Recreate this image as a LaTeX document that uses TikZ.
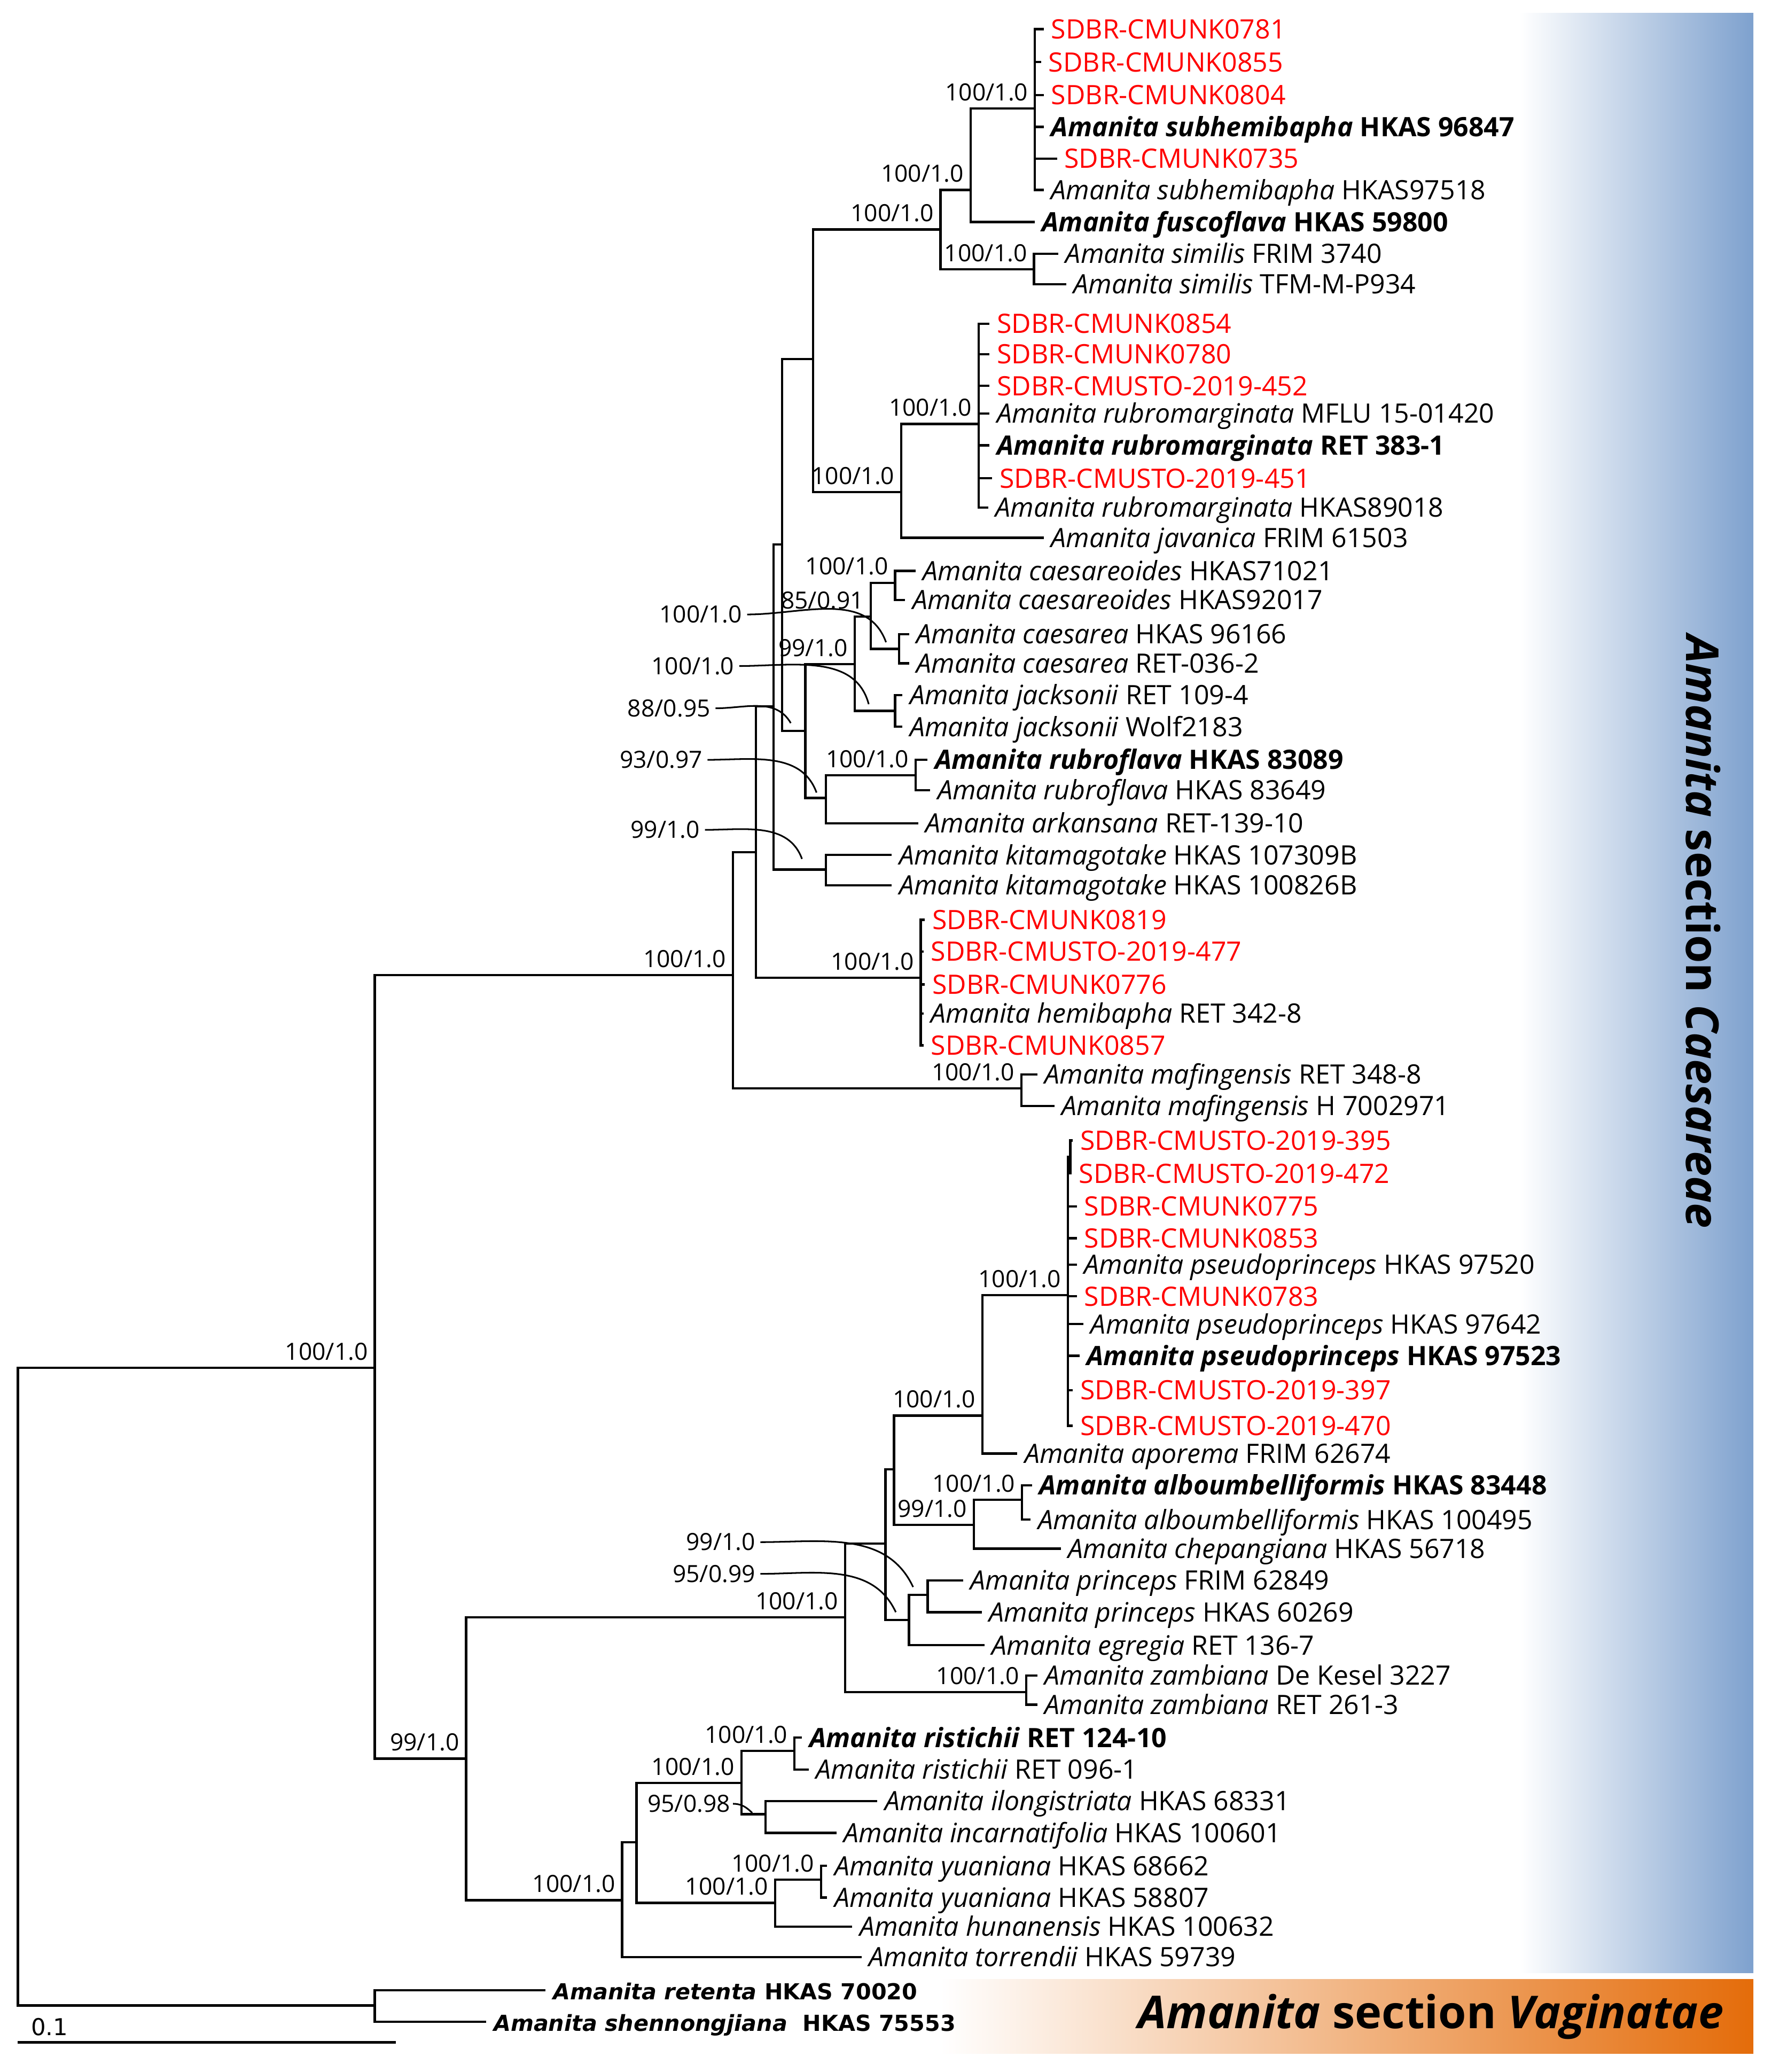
\documentclass[tikz,border=0pt]{standalone}
\usepackage{fontspec}
\setmainfont{Open Sans}
\newfontfamily\vfont{DejaVu Sans}
\usetikzlibrary{calc}

\definecolor{sdbrred}{RGB}{255,0,0}
\definecolor{bandblue}{RGB}{126,161,206}
\definecolor{bandorange}{RGB}{228,108,10}

\newcommand{\leafsize}{\fontsize{11.5}{13.5}\selectfont}
\newcommand{\supsize}{\fontsize{10.2}{12}\selectfont}
\newcommand{\vagsize}{\vfont\fontsize{9.5}{11}\selectfont}
\newcommand{\bandsize}{\fontsize{19.5}{23}\selectfont}
\newcommand{\spc}[2]{\textit{#1} #2}
\newcommand{\spb}[2]{\textbf{\textit{#1} #2}}

\begin{document}
\begin{tikzpicture}[x=0.02cm, y=-0.02cm,
    branch/.style={line width=1pt},
    lead/.style={line width=0.7pt},
    leaf/.style={anchor=west, inner xsep=3pt, inner ysep=0pt, text height=8.2pt, text depth=0pt, font=\leafsize},
    sdbr/.style={leaf, text=sdbrred},
    vleaf/.style={leaf, font=\vagsize},
    sup/.style={anchor=east, inner sep=0pt, text height=7.2pt, text depth=0pt, font=\supsize, xshift=-2.8pt, yshift=7pt},
    supfree/.style={anchor=east, inner sep=0pt, text height=7.2pt, text depth=0pt, font=\supsize},
    band/.style={font=\bandsize\bfseries}]

\useasboundingbox (0,0) rectangle (1341,1568);

% section bands
\shade[left color=white, right color=bandblue] (1150,10) rectangle (1327,1493);
\shade[left color=white, right color=bandorange] (712,1498) rectangle (1327,1554);
\node[band, rotate=-90] (caeband) at (1289,705) {\textit{Amanita} section \textit{Caesareae}};
\node[band] (vagband) at (1083,1526) {\textit{Amanita} section \textit{Vaginatae}};

% internal nodes
\coordinate (root) at (13.5,1276);
\coordinate (cae) at (283.7,1035);
\coordinate (vag) at (283.7,1517.6);
\coordinate (nA) at (554.7,738);
\coordinate (nB) at (352.8,1330.8);
\coordinate (nC) at (572,645);
\coordinate (maf) at (773,823.6);
\coordinate (hemi) at (696.8,740);
\coordinate (nD) at (585.4,534.5);
\coordinate (kita) at (625,658);
\coordinate (nE) at (592,412);
\coordinate (upper) at (615.4,271.8);
\coordinate (sub) at (711.8,173.7);
\coordinate (subA) at (734.6,143.7);
\coordinate (poly) at (783.3,82);
\coordinate (sim) at (782.6,203.7);
\coordinate (rub) at (682.2,372.5);
\coordinate (rubA) at (740.7,320.8);
\coordinate (nF) at (609.5,553.2);
\coordinate (nG) at (646.8,502.7);
\coordinate (cae2) at (659,466.6);
\coordinate (creo) at (677.5,441);
\coordinate (csar) at (680.6,491);
\coordinate (jack) at (677.5,537.9);
\coordinate (rfl) at (625,603.8);
\coordinate (rflA) at (693,586.6);
\coordinate (nH) at (639.6,1224);
\coordinate (zam) at (776.6,1280.6);
\coordinate (nI) at (670.2,1168);
\coordinate (nJ) at (676.6,1112);
\coordinate (ps) at (743.6,1071.2);
\coordinate (psA) at (808.3,980);
\coordinate (psB) at (810,875.5);
\coordinate (alb) at (737,1154);
\coordinate (albA) at (773.6,1135);
\coordinate (pr2) at (688,1226);
\coordinate (pr) at (702.1,1207);
\coordinate (nL) at (470.9,1438);
\coordinate (nM) at (481.8,1394.2);
\coordinate (nN) at (561.1,1349.3);
\coordinate (ris) at (601.3,1325);
\coordinate (ilo) at (579.3,1372.9);
\coordinate (yu2) at (586.6,1440);
\coordinate (yu) at (621.4,1422.4);

% leaves
\node[sdbr] (l0781) at (790,22) {SDBR-CMUNK0781};
\node[sdbr] (l0855) at (788,47) {SDBR-CMUNK0855};
\node[sdbr] (l0804) at (790,72) {SDBR-CMUNK0804};
\node[leaf] (lsub1) at (790,96) {\spb{Amanita subhemibapha}{HKAS 96847}};
\node[sdbr] (l0735) at (800,120) {SDBR-CMUNK0735};
\node[leaf] (lsub2) at (790,143.7) {\spc{Amanita subhemibapha}{HKAS97518}};
\node[leaf] (lfus) at (783,168) {\spb{Amanita fuscoflava}{HKAS 59800}};
\node[leaf] (lsim1) at (801,192) {\spc{Amanita similis}{FRIM 3740}};
\node[leaf] (lsim2) at (807,215) {\spc{Amanita similis}{TFM-M-P934}};
\node[sdbr] (l0854) at (749,245) {SDBR-CMUNK0854};
\node[sdbr] (l0780) at (749,268) {SDBR-CMUNK0780};
\node[sdbr] (l0452) at (749,292) {SDBR-CMUSTO-2019-452};
\node[leaf] (lmflu) at (749,313) {\spc{Amanita rubromarginata}{MFLU 15-01420}};
\node[leaf] (lret) at (749,337) {\spb{Amanita rubromarginata}{RET 383-1}};
\node[sdbr] (l0451) at (751,362) {SDBR-CMUSTO-2019-451};
\node[leaf] (lhk89) at (748,384) {\spc{Amanita rubromarginata}{HKAS89018}};
\node[leaf] (ljav) at (790,407) {\spc{Amanita javanica}{FRIM 61503}};
\node[leaf] (lcr1) at (693,432) {\spc{Amanita caesareoides}{HKAS71021}};
\node[leaf] (lcr2) at (685,454) {\spc{Amanita caesareoides}{HKAS92017}};
\node[leaf] (lca1) at (688,480) {\spc{Amanita caesarea}{HKAS 96166}};
\node[leaf] (lca2) at (688,502) {\spc{Amanita caesarea}{RET-036-2}};
\node[leaf] (lj1) at (683,526) {\spc{Amanita jacksonii}{RET 109-4}};
\node[leaf] (lj2) at (683,550) {\spc{Amanita jacksonii}{Wolf2183}};
\node[leaf] (lrf1) at (702,575) {\spb{Amanita rubroflava}{HKAS 83089}};
\node[leaf] (lrf2) at (704,598) {\spc{Amanita rubroflava}{HKAS 83649}};
\node[leaf] (lark) at (695,623) {\spc{Amanita arkansana}{RET-139-10}};
\node[leaf] (lk1) at (675,647) {\spc{Amanita kitamagotake}{HKAS 107309B}};
\node[leaf] (lk2) at (675,670) {\spc{Amanita kitamagotake}{HKAS 100826B}};
\node[sdbr] (l0819) at (700,696) {SDBR-CMUNK0819};
\node[sdbr] (l0477) at (699,720) {SDBR-CMUSTO-2019-477};
\node[sdbr] (l0776) at (700,745) {SDBR-CMUNK0776};
\node[leaf] (lhemi) at (699,767) {\spc{Amanita hemibapha}{RET 342-8}};
\node[sdbr] (l0857) at (699,791) {SDBR-CMUNK0857};
\node[leaf] (lm1) at (785,813) {\spc{Amanita mafingensis}{RET 348-8}};
\node[leaf] (lm2) at (798,837) {\spc{Amanita mafingensis}{H 7002971}};
\node[sdbr] (l0395) at (812,863) {SDBR-CMUSTO-2019-395};
\node[sdbr] (l0472) at (811,888) {SDBR-CMUSTO-2019-472};
\node[sdbr] (l0775) at (815,913) {SDBR-CMUNK0775};
\node[sdbr] (l0853) at (815,937) {SDBR-CMUNK0853};
\node[leaf] (lps1) at (815,957) {\spc{Amanita pseudoprinceps}{HKAS 97520}};
\node[sdbr] (l0783) at (815,981) {SDBR-CMUNK0783};
\node[leaf] (lps2) at (820,1002) {\spc{Amanita pseudoprinceps}{HKAS 97642}};
\node[leaf] (lps3) at (817,1026) {\spb{Amanita pseudoprinceps}{HKAS 97523}};
\node[sdbr] (l0397) at (812,1052) {SDBR-CMUSTO-2019-397};
\node[sdbr] (l0470) at (812,1079) {SDBR-CMUSTO-2019-470};
\node[leaf] (lapo) at (770,1100) {\spc{Amanita aporema}{FRIM 62674}};
\node[leaf] (lalb1) at (781,1124) {\spb{Amanita alboumbelliformis}{HKAS 83448}};
\node[leaf] (lalb2) at (780,1150) {\spc{Amanita alboumbelliformis}{HKAS 100495}};
\node[leaf] (lchep) at (803,1172) {\spc{Amanita chepangiana}{HKAS 56718}};
\node[leaf] (lpr1) at (729,1196) {\spc{Amanita princeps}{FRIM 62849}};
\node[leaf] (lpr2) at (743,1220) {\spc{Amanita princeps}{HKAS 60269}};
\node[leaf] (legr) at (745,1245) {\spc{Amanita egregia}{RET 136-7}};
\node[leaf] (lz1) at (785,1268) {\spc{Amanita zambiana}{De Kesel 3227}};
\node[leaf] (lz2) at (785,1290) {\spc{Amanita zambiana}{RET 261-3}};
\node[leaf] (lri1) at (607,1315) {\spb{Amanita ristichii}{RET 124-10}};
\node[leaf] (lri2) at (612,1339) {\spc{Amanita ristichii}{RET 096-1}};
\node[leaf] (lilo) at (664,1363) {\spc{Amanita ilongistriata}{HKAS 68331}};
\node[leaf] (linc) at (633,1387) {\spc{Amanita incarnatifolia}{HKAS 100601}};
\node[leaf] (ly1) at (626,1412) {\spc{Amanita yuaniana}{HKAS 68662}};
\node[leaf] (ly2) at (626,1436) {\spc{Amanita yuaniana}{HKAS 58807}};
\node[leaf] (lhun) at (645,1458) {\spc{Amanita hunanensis}{HKAS 100632}};
\node[leaf] (ltor) at (652,1481) {\spc{Amanita torrendii}{HKAS 59739}};
\node[vleaf] (lrete) at (413,1506) {\spb{Amanita retenta}{HKAS 70020}};
\node[vleaf] (lshen) at (368,1530) {\spb{Amanita shennongjiana}{\ HKAS 75553}};

% branches
\draw[branch]
  (root) |- (cae) (root) |- (vag)
  (vag) |- (lrete.west) (vag) |- (lshen.west)
  (cae) |- (nA) (cae) |- (nB)
  (nA) |- (nC) (nA) |- (maf)
  (maf) |- (lm1.west) (maf) |- (lm2.west)
  (nC) |- (nD) (nC) |- (hemi)
  (hemi) |- (l0819.west) (hemi) |- (l0477.west) (hemi) |- (l0776.west)
  (hemi) |- (lhemi.west) (hemi) |- (l0857.west)
  (nD) |- (nE) (nD) |- (kita)
  (kita) |- (lk1.west) (kita) |- (lk2.west)
  (nE) |- (upper) (nE) |- (nF)
  (upper) |- (sub) (upper) |- (rub)
  (sub) |- (subA) (sub) |- (sim)
  (subA) |- (poly) (subA) |- (lfus.west)
  (poly) |- (l0781.west) (poly) |- (l0855.west) (poly) |- (l0804.west)
  (poly) |- (lsub1.west) (poly) |- (l0735.west) (poly) |- (lsub2.west)
  (sim) |- (lsim1.west) (sim) |- (lsim2.west)
  (rub) |- (rubA) (rub) |- (ljav.west)
  (rubA) |- (l0854.west) (rubA) |- (l0780.west) (rubA) |- (l0452.west)
  (rubA) |- (lmflu.west) (rubA) |- (lret.west) (rubA) |- (l0451.west)
  (rubA) |- (lhk89.west)
  (nF) |- (nG) (nF) |- (rfl)
  (nG) |- (cae2) (nG) |- (jack)
  (cae2) |- (creo) (cae2) |- (csar)
  (creo) |- (lcr1.west) (creo) |- (lcr2.west)
  (csar) |- (lca1.west) (csar) |- (lca2.west)
  (jack) |- (lj1.west) (jack) |- (lj2.west)
  (rfl) |- (rflA) (rfl) |- (lark.west)
  (rflA) |- (lrf1.west) (rflA) |- (lrf2.west)
  (nB) |- (nH) (nB) |- (nL)
  (nH) |- (nI) (nH) |- (zam)
  (zam) |- (lz1.west) (zam) |- (lz2.west)
  (nI) |- (nJ) (nI) |- (pr2)
  (nJ) |- (ps) (nJ) |- (alb)
  (ps) |- (psA) (ps) |- (lapo.west)
  (psA) |- (psB) (psA) |- (l0775.west) (psA) |- (l0853.west)
  (psA) |- (lps1.west) (psA) |- (l0783.west) (psA) |- (lps2.west)
  (psA) |- (lps3.west) (psA) |- (l0397.west) (psA) |- (l0470.west)
  (psB) |- (l0395.west) (psB) |- (l0472.west)
  (alb) |- (albA) (alb) |- (lchep.west)
  (albA) |- (lalb1.west) (albA) |- (lalb2.west)
  (pr2) |- (pr) (pr2) |- (legr.west)
  (pr) |- (lpr1.west) (pr) |- (lpr2.west)
  (nL) |- (nM) (nL) |- (ltor.west)
  (nM) |- (nN) (nM) |- (yu2)
  (nN) |- (ris) (nN) |- (ilo)
  (ris) |- (lri1.west) (ris) |- (lri2.west)
  (ilo) |- (lilo.west) (ilo) |- (linc.west)
  (yu2) |- (yu) (yu2) |- (lhun.west)
  (yu) |- (ly1.west) (yu) |- (ly2.west);

% support values
\node[sup] (s-cae) at (cae) {100/1.0};
\node[sup] (s-nA) at (nA) {100/1.0};
\node[sup] (s-nB) at (nB) {99/1.0};
\node[sup] (s-sub) at (sub) {100/1.0};
\node[sup] (s-subA) at (subA) {100/1.0};
\node[sup] (s-poly) at (poly) {100/1.0};
\node[sup] (s-sim) at (sim) {100/1.0};
\node[sup] (s-rub) at (rub) {100/1.0};
\node[sup] (s-rubA) at (rubA) {100/1.0};
\node[sup] (s-cae2) at (cae2) {85/0.91};
\node[sup] (s-nG) at (nG) {99/1.0};
\node[sup] (s-creo) at (creo) {100/1.0};
\node[sup] (s-rflA) at (rflA) {100/1.0};
\node[sup] (s-hemi) at (hemi) {100/1.0};
\node[sup] (s-maf) at (maf) {100/1.0};
\node[sup] (s-psA) at (psA) {100/1.0};
\node[sup] (s-ps) at (ps) {100/1.0};
\node[sup] (s-albA) at (albA) {100/1.0};
\node[sup] (s-alb) at (alb) {99/1.0};
\node[sup] (s-nH) at (nH) {100/1.0};
\node[sup] (s-zam) at (zam) {100/1.0};
\node[sup] (s-ris) at (ris) {100/1.0};
\node[sup] (s-nN) at (nN) {100/1.0};
\node[sup] (s-nL) at (nL) {100/1.0};
\node[sup] (s-yu2) at (yu2) {100/1.0};
\node[sup] (s-yu) at (yu) {100/1.0};

% support values with leader curves
\node[supfree] (s-csar) at (562,465) {100/1.0};
\node[supfree] (s-jack) at (556,504) {100/1.0};
\node[supfree] (s-nF) at (538,536) {88/0.95};
\node[supfree] (s-rfl) at (532,575) {93/0.97};
\node[supfree] (s-kita) at (530,628) {99/1.0};
\node[supfree] (s-pr) at (572,1167) {99/1.0};
\node[supfree] (s-pr2) at (572,1191) {95/0.99};
\node[supfree] (s-ilo) at (553,1365) {95/0.98};
\coordinate (t-csar) at ($(csar)+(-10,-5)$);
\coordinate (t-jack) at ($(jack)+(-20,-5)$);
\coordinate (t-nF) at ($(nF)+(-11,-6)$);
\coordinate (t-rfl) at ($(rfl)+(-7,-4)$);
\coordinate (t-kita) at ($(kita)+(-18,-8)$);
\coordinate (t-pr) at ($(pr)+(-11,-6)$);
\coordinate (t-pr2) at ($(pr2)+(-10,-6)$);
\coordinate (t-ilo) at ($(ilo)+(-10,-1)$);
\draw[lead] ([xshift=2pt]s-csar.east) to[out=0, in=110] (t-csar);
\draw[lead] ([xshift=2pt]s-jack.east) to[out=0, in=105] (t-jack);
\draw[lead] ([xshift=2pt]s-nF.east) to[out=0, in=120] (t-nF);
\draw[lead] ([xshift=2pt]s-rfl.east) to[out=0, in=110] (t-rfl);
\draw[lead] ([xshift=2pt]s-kita.east) to[out=0, in=110] (t-kita);
\draw[lead] ([xshift=2pt]s-pr.east) to[out=0, in=115] (t-pr);
\draw[lead] ([xshift=2pt]s-pr2.east) to[out=0, in=115] (t-pr2);
\draw[lead] ([xshift=1pt]s-ilo.east) to[out=0, in=135] (t-ilo);

% scale bar
\coordinate (sb0) at (13.5,1545.6);
\coordinate (sb1) at (299.8,1545.6);
\draw[branch] (sb0) -- (sb1);
\node[font=\vfont\fontsize{10}{12}\selectfont, inner sep=0pt] (sblab) at (37.5,1534) {0.1};

\end{tikzpicture}
\end{document}
